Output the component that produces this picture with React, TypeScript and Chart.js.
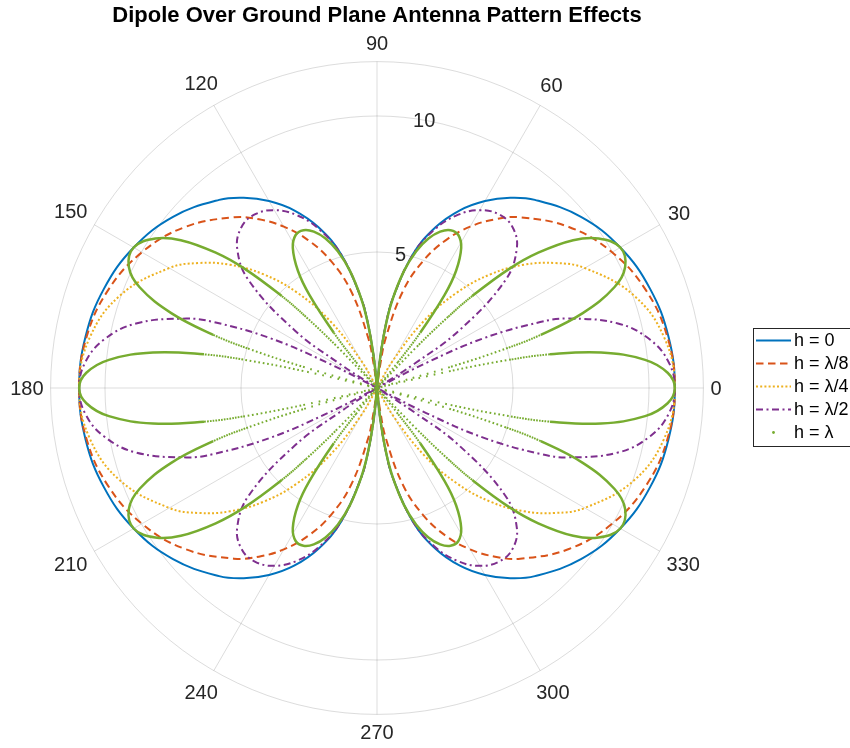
import React, { useEffect, useRef } from 'react';
import { Chart, registerables } from 'chart.js';

Chart.register(...registerables);

const titleText = 'Dipole Over Ground Plane Antenna Pattern Effects';
const seriesLabels = ['h = 0', 'h = λ/8', 'h = λ/4', 'h = λ/2', 'h = λ'];
const seriesColors = ['#0072BD', '#D95319', '#EDB120', '#7E2F8E', '#77AC30'];
const angleTicks = [0, 30, 60, 90, 120, 150, 180, 210, 240, 270, 300, 330];
const radialTicks = [5, 10];
const radialMax = 12;
const radialLabelAngle = 80;

// First-quadrant readings (degrees, radius); the pattern is mirrored about both axes.
const hZeroAngles = [0, 10, 20, 30, 40, 50, 55, 60, 65, 70, 75, 80, 82, 84, 85.4];
const hZeroR = [10.95, 10.88, 10.68, 10.33, 9.79, 9.03, 8.54, 7.94, 7.21, 6.29, 5.08, 3.35, 2.39, 1.14, 0];

const hEighthAngles = [0, 10, 20, 30, 40, 50, 55, 60, 65, 70, 75, 80, 82, 83.5];
const hEighthR = [10.95, 10.84, 10.52, 9.98, 9.21, 8.19, 7.57, 6.85, 6.0, 4.98, 3.69, 1.89, 0.91, 0];

const hQuarterAngles = [0, 10, 20, 30, 35, 40, 45, 50, 55, 60, 62.7];
const hQuarterR = [10.95, 10.72, 10.02, 8.82, 8.01, 7.05, 5.92, 4.59, 3.01, 1.14, 0];

const hHalfAngles = [0, 5, 10, 15, 20, 22, 25, 27, 28.1, 32, 33, 35, 40, 45, 50, 55, 60, 65, 70, 75, 80, 82, 84, 85.4];
const hHalfR = [10.95, 10.77, 10.2, 9.17, 7.46, 6.47, 4.34, 2.03, 0, 0, 1.64, 3.69, 6.16, 7.27, 7.74, 7.8, 7.55, 7.02, 6.21, 5.06, 3.35, 2.38, 1.13, 0];

const hOneAngles = [0, 3, 6, 9, 11, 12, 13, 13.7, 15.25, 16, 17, 18, 20, 23, 26, 30, 34, 37, 40, 42, 44, 45, 46, 47, 50.4, 51, 52, 54, 56, 59, 62, 65, 68, 71, 74, 77, 80, 82, 84, 85.4];
const hOneR = [10.95, 10.7, 9.91, 8.34, 6.48, 5.03, 2.78, 0, 0, 2.83, 4.96, 6.33, 8.05, 9.48, 10.15, 10.33, 9.83, 9.03, 7.74, 6.56, 4.87, 3.7, 2.18, 0, 0, 1.22, 2.58, 4.22, 5.2, 6.01, 6.37, 6.4, 6.2, 5.81, 5.23, 4.42, 3.33, 2.38, 1.13, 0];

const seriesAngles = [hZeroAngles, hEighthAngles, hQuarterAngles, hHalfAngles, hOneAngles];
const seriesRadii = [hZeroR, hEighthR, hQuarterR, hHalfR, hOneR];

const FONT = '"Liberation Sans", Arial, Helvetica, sans-serif';
const GRID = 'rgba(38,38,38,0.16)';
const TICK_TEXT = '#262626';

type PP = { ang: number; r: number };

function mirrorPath(angles: number[], radii: number[]): PP[] {
  const pts: PP[] = [];
  const n = angles.length;
  for (let i = n - 1; i >= 0; i--) pts.push({ ang: 180 - angles[i], r: radii[i] });
  for (let i = 1; i < n; i++) pts.push({ ang: 180 + angles[i], r: radii[i] });
  for (let i = n - 1; i >= 0; i--) pts.push({ ang: 360 - angles[i], r: radii[i] });
  for (let i = 1; i < n; i++) pts.push({ ang: 360 + angles[i], r: radii[i] });
  return pts;
}

function toXY(p: PP) {
  const t = (p.ang * Math.PI) / 180;
  return { x: p.r * Math.cos(t), y: p.r * Math.sin(t) };
}

const dashStyles: number[][] = [[], [7.5, 4.5], [2, 2.2], [7, 3.5, 2, 3.5], []];
const MARKER_STEP = 0.00126;

const polarGridPlugin = {
  id: 'polarGrid',
  beforeDatasetsDraw(chart: any) {
    const { ctx } = chart;
    const xs = chart.scales.x;
    const ys = chart.scales.y;
    const cx = xs.getPixelForValue(0);
    const cy = ys.getPixelForValue(0);
    const unit = xs.getPixelForValue(1) - cx;
    const R = radialMax * unit;
    ctx.save();
    ctx.strokeStyle = GRID;
    ctx.lineWidth = 1;
    for (const r of [...radialTicks, radialMax]) {
      ctx.beginPath();
      ctx.arc(cx, cy, r * unit, 0, Math.PI * 2);
      ctx.stroke();
    }
    for (const a of angleTicks) {
      const t = (a * Math.PI) / 180;
      ctx.beginPath();
      ctx.moveTo(cx, cy);
      ctx.lineTo(cx + R * Math.cos(t), cy - R * Math.sin(t));
      ctx.stroke();
    }
    ctx.fillStyle = TICK_TEXT;
    ctx.font = `20px ${FONT}`;
    ctx.textAlign = 'center';
    ctx.textBaseline = 'middle';
    for (const a of angleTicks) {
      const t = (a * Math.PI) / 180;
      const label = String(a);
      const w = ctx.measureText(label).width;
      const ext = Math.abs(Math.cos(t)) * w / 2 + Math.abs(Math.sin(t)) * 11.5;
      const d = R + 7 + ext;
      ctx.fillText(label, cx + d * Math.cos(t), cy - d * Math.sin(t) + 1);
    }
    const ta = (radialLabelAngle * Math.PI) / 180;
    for (const r of radialTicks) {
      ctx.fillText(String(r), cx + r * unit * Math.cos(ta), cy - r * unit * Math.sin(ta) + 1);
    }
    ctx.restore();
  },
};

const legendPlugin = {
  id: 'matlabLegend',
  afterDraw(chart: any) {
    const { ctx } = chart;
    const bx = 753.5, by = 328.5, bw = 110, bh = 118;
    ctx.save();
    ctx.fillStyle = '#ffffff';
    ctx.fillRect(bx, by, bw, bh);
    ctx.strokeStyle = '#262626';
    ctx.lineWidth = 1;
    ctx.strokeRect(bx, by, bw, bh);
    ctx.font = `18px ${FONT}`;
    ctx.textAlign = 'left';
    ctx.textBaseline = 'middle';
    seriesLabels.forEach((label, i) => {
      const y = 340.5 + i * 23;
      ctx.strokeStyle = seriesColors[i];
      ctx.fillStyle = seriesColors[i];
      if (i === 4) {
        ctx.beginPath();
        ctx.arc(773.5, y, 1.4, 0, Math.PI * 2);
        ctx.fill();
      } else {
        ctx.lineWidth = 2;
        ctx.setLineDash(dashStyles[i]);
        ctx.beginPath();
        ctx.moveTo(756, y);
        ctx.lineTo(791, y);
        ctx.stroke();
        ctx.setLineDash([]);
      }
      ctx.fillStyle = '#000000';
      ctx.fillText(label, 794, y + 1);
    });
    ctx.restore();
  },
};

export default function App() {
  const canvasRef = useRef<HTMLCanvasElement | null>(null);

  useEffect(() => {
    if (!canvasRef.current) return;
    const paths = seriesAngles.map((a, i) => mirrorPath(a, seriesRadii[i]));

    const spacingOf = (ctx: any, path: PP[]) => {
      const a0 = path[ctx.p0DataIndex];
      const a1 = path[ctx.p1DataIndex];
      if (!a0 || !a1) return 0;
      const L = Math.hypot(ctx.p1.x - ctx.p0.x, ctx.p1.y - ctx.p0.y);
      const dA = (Math.abs(a1.ang - a0.ang) * Math.PI) / 180;
      if (dA < 1e-9 || L < 1e-6) return 0;
      return (L / dA) * MARKER_STEP;
    };

    const datasets: any[] = paths.map((path, i) => {
      const base: any = {
        label: seriesLabels[i],
        data: path.map(toXY),
        borderColor: seriesColors[i],
        backgroundColor: seriesColors[i],
        borderWidth: 2,
        borderDash: dashStyles[i],
        pointRadius: 0,
        pointHoverRadius: 0,
        tension: 0.4,
        fill: false,
        order: 4 - i,
      };
      if (i === 4) {
        base.borderWidth = 2.5;
        base.segment = {
          borderDash: (ctx: any) => {
            const s = spacingOf(ctx, path);
            return s < 1.9 ? [] : [1.7, Math.max(s - 1.7, 0.5)];
          },
          borderWidth: (ctx: any) => (spacingOf(ctx, path) < 1.9 ? 2.5 : 2),
        };
      }
      return base;
    });

    const chart = new Chart(canvasRef.current, {
      type: 'line',
      data: { datasets },
      options: {
        animation: false,
        responsive: false,
        maintainAspectRatio: false,
        events: [],
        layout: { padding: { left: 50.6, right: 146.6, top: 0, bottom: 33.6 } },
        scales: {
          x: { type: 'linear', min: -radialMax, max: radialMax, display: false },
          y: { type: 'linear', min: -radialMax, max: radialMax, display: false },
        },
        plugins: {
          legend: { display: false },
          tooltip: { enabled: false },
          title: {
            display: true,
            text: titleText,
            color: '#000000',
            font: { family: FONT, size: 22, weight: 'bold' },
            padding: { top: 3, bottom: 32.2 },
          },
        },
      } as any,
      plugins: [polarGridPlugin, legendPlugin],
    });
    return () => chart.destroy();
  }, []);

  return (
    <div style={{ position: 'absolute', left: 0, top: 0, width: 850, height: 748, background: '#fff' }}>
      <canvas ref={canvasRef} width={850} height={748} style={{ width: 850, height: 748, display: 'block' }} />
    </div>
  );
}
